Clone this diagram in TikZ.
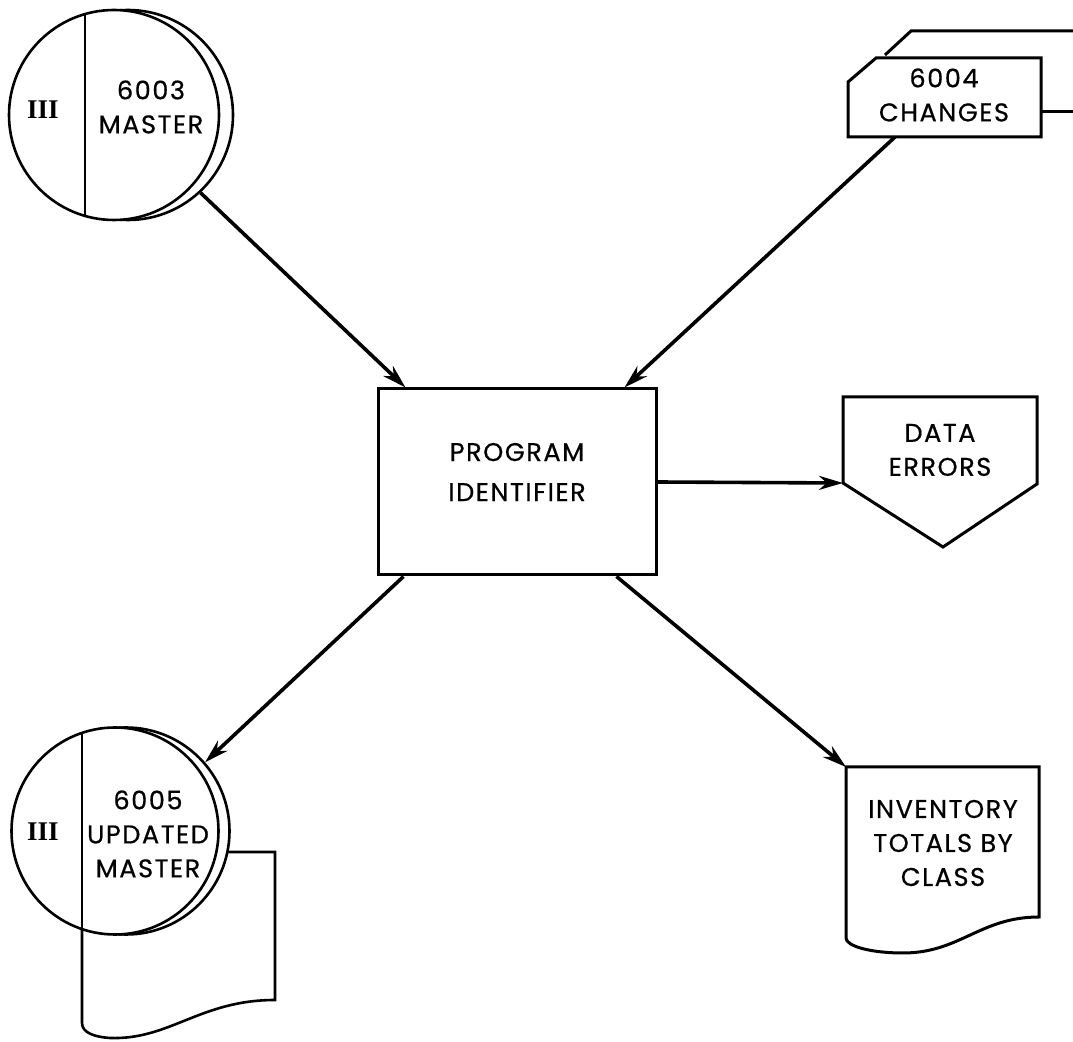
\documentclass[tikz,border=0pt]{standalone}
\usepackage{fontspec}
\usetikzlibrary{arrows.meta,calc}
\newfontfamily\chartfont[LetterSpace=6,FakeBold=0.6]{Poppins}
\newfontfamily\romfont{Liberation Serif}

\begin{document}
\begin{tikzpicture}[
    x=0.5pt,y=-0.5pt,
    font=\chartfont\fontsize{12.8}{17}\selectfont,
    shapeline/.style={line width=1.5pt,line join=miter},
    disk/.style={circle,draw,line width=1.3pt,fill=white,inner sep=0pt,minimum size=#1},
    flow/.style={line width=1.8pt,-{Stealth[length=12pt,width=7pt]}},
    lbl/.style={align=center,inner sep=0pt},
    tag/.style={inner sep=0pt,font=\romfont\bfseries\fontsize{13.5}{15}\selectfont}]
  \useasboundingbox (0,0) rectangle (1073,1042);

  % input master tape
  \node[disk=105pt] (masterback) at (128,115) {};
  \node[disk=105pt] (master) at (114,115) {};
  \draw[line width=1.3pt] ($(master.center)+(-29,-101)$) -- ($(master.center)+(-29,101)$);
  \node[tag] (mastertag) at (43,110) {III};
  \node[lbl] (mastertxt) at (151,107) {6003\\MASTER};

  % change cards
  \draw[shapeline] (885,55) -- (911,31) -- (1075,31);
  \draw[shapeline] (1041,112) -- (1075,112);
  \draw[shapeline,fill=white] (848,82) -- (876,58) -- (1041,58) -- (1041,137) -- (848,137) -- cycle;
  \coordinate (chgout) at (895,137);
  \node[lbl] (chg) at (944,95) {6004\\CHANGES};

  % program
  \node[draw,line width=1.5pt,minimum width=139pt,minimum height=93pt] (prog) at (517,482) {};
  \node[lbl,font=\chartfont\fontsize{12.8}{20}\selectfont] (progtxt) at (517,472) {PROGRAM\\IDENTIFIER};

  % error display
  \draw[shapeline] (843,397) -- (1037,397) -- (1037,484) -- (943,547) -- (843,483) -- cycle;
  \coordinate (errin) at (843,483);
  \node[lbl] (err) at (940,450) {DATA\\ERRORS};

  % updated master tape and listing
  \draw[line width=1.3pt,fill=white] (82,852) -- (275,852) -- (275,1000)
    .. controls (200,1000) and (170,1040) .. (110,1038)
    .. controls (95,1037) and (82,1033) .. (82,1023) -- cycle;
  \node[disk=103.5pt] (updback) at (126,831) {};
  \node[disk=103.5pt] (upd) at (115,831) {};
  \draw[line width=1.3pt] ($(upd.center)+(-33,-98)$) -- (82,1023);
  \node[tag] (updtag) at (43,832) {III};
  \node[lbl] (updtxt) at (148,834) {6005\\UPDATED\\MASTER};

  % report
  \draw[shapeline] (846,767) -- (1039,767) -- (1039,917)
    .. controls (980,917) and (960,953) .. (903,953)
    .. controls (870,953) and (846,946) .. (846,938) -- cycle;
  \coordinate (invin) at (846,767);
  \node[lbl] (inv) at (943,843) {INVENTORY\\TOTALS BY\\CLASS};

  % flow lines
  \draw[flow] (masterback.-47) -- ([xshift=14.5pt]prog.north west);
  \draw[flow] (chgout) -- ([xshift=-16.5pt]prog.north east);
  \draw[flow] (prog.east) -- (errin);
  \draw[flow] ([xshift=13.5pt]prog.south west) -- (updback.41);
  \draw[flow] ([xshift=-20.5pt]prog.south east) -- (invin);
\end{tikzpicture}
\end{document}
